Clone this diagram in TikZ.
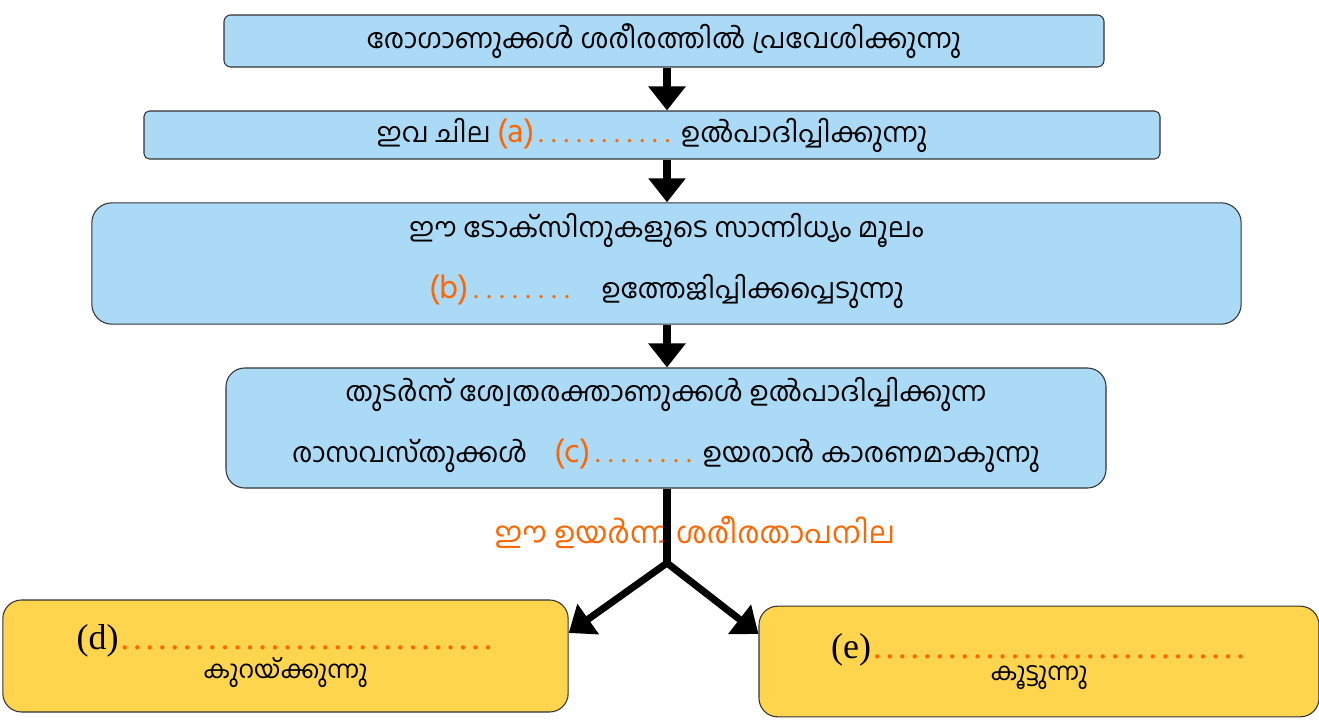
\documentclass[tikz,border=0pt]{standalone}
\usepackage{fontspec}
\setmainfont{Liberation Serif}
\newfontfamily\ml[Script=Malayalam]{Hind Kochi}
\usetikzlibrary{arrows.meta}
\definecolor{boxblue}{RGB}{170,218,246}
\definecolor{boxyellow}{RGB}{254,213,77}
\definecolor{orng}{RGB}{255,102,0}
\newcommand\dotrow[2]{{\color{orng}\xleaders\hbox to #1{\hss.\hss}\hskip #2\relax}}
\newcommand\lettr[1]{{\fontsize{25}{25}\selectfont\color{orng}(#1)}}
\tikzset{
  bluebox/.style={draw=black!80, line width=0.8pt, fill=boxblue, inner sep=0pt, align=center},
  yellowbox/.style={draw=black!80, line width=0.8pt, fill=boxyellow, inner sep=0pt, align=center},
  mltext/.style={font=\ml\fontsize{20.5}{24}\selectfont},
  flowarrow/.style={line width=5.3pt, -{Triangle[width=27pt,length=18pt]}},
  flowline/.style={line width=5.3pt},
  lab/.style={text=orng}
}
\begin{document}
\begin{tikzpicture}[x=0.75pt,y=-0.75pt]
\useasboundingbox (0,0) rectangle (1319,720);
% boxes
\node[bluebox, rounded corners=5pt, minimum width=660pt, minimum height=39pt, mltext] (b1) at (664,41)
  {രോഗാണുക്കൾ ശരീരത്തിൽ പ്രവേശിക്കുന്നു};
\node[bluebox, rounded corners=4pt, minimum width=762pt, minimum height=36pt, mltext] (b2) at (652,135)
  {ഇവ ചില \lettr{a}\dotrow{8.8pt}{105pt} ഉൽപാദിപ്പിക്കുന്നു};
\node[bluebox, rounded corners=15pt, minimum width=862pt, minimum height=91pt, mltext, text depth=12pt] (b3) at (666.5,263.5)
  {ഈ ടോക്സിനുകളുടെ സാന്നിധ്യം മൂലം\\[19pt]\lettr{b}\dotrow{8.8pt}{79pt}\quad ഉത്തേജിപ്പിക്കപ്പെടുന്നു};
\node[bluebox, rounded corners=14pt, minimum width=660pt, minimum height=90pt, mltext, text depth=12pt] (b4) at (666,428)
  {തുടർന്ന് ശ്വേതരക്താണുക്കൾ ഉൽപാദിപ്പിക്കുന്ന\\[19pt]രാസവസ്തുക്കൾ\quad\lettr{c}\dotrow{8.8pt}{79pt} ഉയരാൻ കാരണമാകുന്നു};
\node[yellowbox, rounded corners=14pt, minimum width=424pt, minimum height=84pt] (bd) at (285.5,656)
  {{\fontsize{27}{27}\selectfont (d)\dotrow{9.4pt}{282pt}}\\[-1pt]{\ml\fontsize{18.5}{20}\selectfont കുറയ്ക്കുന്നു}};
\node[yellowbox, rounded corners=14pt, minimum width=420pt, minimum height=83pt] (be) at (1039,661.5)
  {{\fontsize{27}{27}\selectfont (e)\dotrow{9.4pt}{282pt}}\\[-1pt]{\ml\fontsize{18.5}{20}\selectfont കൂട്ടുന്നു}};
% label
\node[lab, font=\ml\fontsize{22.5}{24}\selectfont] (temp) at (695,532) {ഈ ഉയർന്ന ശരീരതാപനില};
% connectors
\coordinate (ax) at (667,0);
\coordinate (j) at (667,563);
\draw[flowarrow] (b1.south -| ax) -- (b2.north -| ax);
\draw[flowarrow] (b2.south -| ax) -- (b3.north -| ax);
\draw[flowarrow] (b3.south -| ax) -- (b4.north -| ax);
\draw[flowline] (b4.south -| ax) -- (j);
\draw[flowarrow, shorten <=-2pt] (j) -- (bd.east |- 0,633);
\draw[flowarrow, shorten <=-2pt] (j) -- (be.west |- 0,634);
\end{tikzpicture}
\end{document}
